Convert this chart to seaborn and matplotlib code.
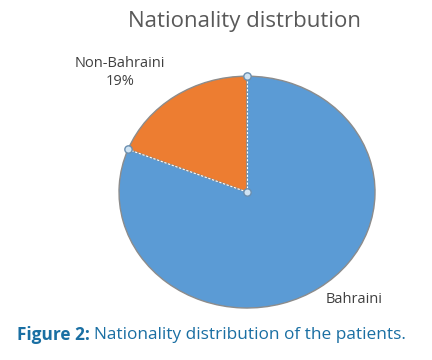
import numpy as np
import matplotlib.pyplot as plt
import seaborn as sns

# data
labels = ['Bahraini', 'Non-Bahraini']
shares = [81, 19]
shown_pct = ['', '19%']

sns.set_theme(style='white')
plt.rcParams['font.family'] = ['Open Sans', 'DejaVu Sans']
colors = ['#5b9bd5', '#ed7d31']

fig = plt.figure(figsize=(4.32, 3.6), dpi=100)
ax = fig.add_axes([0.2755, 0.1444, 0.5926, 0.644])

# slices go clockwise from 12 o'clock: Non-Bahraini drawn first counterclockwise
wedges, _ = ax.pie(shares[::-1], colors=colors[::-1], startangle=90, counterclock=True,
                   wedgeprops=dict(edgecolor='#8c8c8c', linewidth=1.0))
ax.set_aspect('auto')
ax.set_xlim(-1, 1)
ax.set_ylim(-1, 1)
ax.axis('off')

# dashed selection lines on the edges of the small slice + handles
ang0 = np.deg2rad(90)
ang1 = np.deg2rad(90 + 360 * shares[1] / sum(shares))
for a in (ang0, ang1):
    ax.plot([0, np.cos(a)], [0, np.sin(a)], color='white', lw=0.8, ls=(0, (2, 1.5)), zorder=3)
hx = [np.cos(ang0), np.cos(ang1), 0]
hy = [np.sin(ang0), np.sin(ang1), 0]
ax.scatter(hx, hy, s=28, facecolor='#cfe3f3', edgecolor='#6a8fb0', linewidth=1.0, zorder=4, clip_on=False)

# labels
ax.text(-0.99, 1.03, labels[1] + '\n' + shown_pct[1], ha='center', va='center',
        fontsize=10.5, color='#404040', linespacing=1.25)
ax.text(0.84, -0.93, labels[0], ha='center', va='center', fontsize=10.5, color='#404040')

fig.text(0.565, 0.94, 'Nationality distrbution', ha='center', va='center',
         fontsize=16, color='#595959')

# caption
cap_y = 0.07
t1 = fig.text(0.04, cap_y, 'Figure 2:', ha='left', va='center', fontsize=12.4,
              fontweight='bold', color='#1a6fa3')
fig.canvas.draw()
bb = t1.get_window_extent()
x2 = (bb.x1 + 4) / fig.bbox.width
fig.text(x2, cap_y, 'Nationality distribution of the patients.', ha='left', va='center',
         fontsize=12.4, color='#1a6fa3')

plt.savefig('out.png', dpi=100)
